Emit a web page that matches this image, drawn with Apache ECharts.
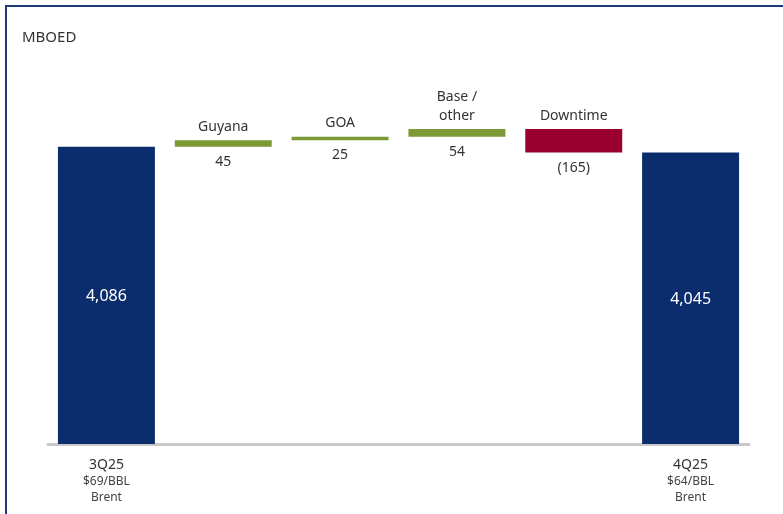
<!DOCTYPE html>
<html>
<head>
<meta charset="utf-8">
<title>MBOED bridge</title>
<script src="https://cdn.jsdelivr.net/npm/echarts@6/dist/echarts.min.js"></script>
<style>
  html, body { margin: 0; padding: 0; background: #ffffff; }
  #chart { width: 783px; height: 514px; }
</style>
</head>
<body>
<div id="chart"></div>
<script>
// Production bridge, thousand barrels of oil equivalent per day
const categories = ['3Q25', 'Guyana', 'GOA', 'Base /\nother', 'Downtime', '4Q25'];
const startValue = 4086;
const deltas = [45, 25, 54, -165];
const endValue = 4045;
const priceNotes = ['$69/BBL\nBrent', '', '', '', '', '$64/BBL\nBrent'];

const Y_MIN = 2000;
const Y_MAX = 4400;

const NAVY = '#0c2d6d';
const GREEN = '#7b9a33';
const RED = '#990030';
const TEXT = '#333333';
const FONT = '"Noto Sans", "Open Sans", sans-serif';

// Build floating segments: [index, low, high, value, kind]
const segments = [];
segments.push([0, Y_MIN, startValue, startValue, 'total']);
let running = startValue;
deltas.forEach(function (d, k) {
  const next = running + d;
  segments.push([k + 1, Math.min(running, next), Math.max(running, next), d, d >= 0 ? 'up' : 'down']);
  running = next;
});
segments.push([categories.length - 1, Y_MIN, endValue, endValue, 'total']);

function fmtTotal(v) {
  return v.toLocaleString('en-US');
}
function fmtDelta(v) {
  return v < 0 ? '(' + Math.abs(v) + ')' : String(v);
}

const chart = echarts.init(document.getElementById('chart'), null, { renderer: 'canvas' });

chart.setOption({
  backgroundColor: '#ffffff',
  animation: false,
  graphic: [
    { type: 'rect', shape: { x: 5, y: 5, width: 2, height: 509 }, style: { fill: '#1d3b7a' } },
    { type: 'rect', shape: { x: 5, y: 5, width: 778, height: 2 }, style: { fill: '#1d3b7a' } },
    {
      type: 'text', left: 22, top: 30,
      style: { text: 'MBOED', fontSize: 15, fill: TEXT, fontFamily: FONT }
    }
  ],
  grid: { left: 48, right: 34, top: 102, bottom: 70, containLabel: false },
  xAxis: {
    type: 'category',
    data: categories,
    axisLine: { show: true, lineStyle: { color: '#c8c8c8', width: 3 } },
    axisTick: { show: false },
    axisLabel: {
      interval: 0,
      margin: 12,
      fontFamily: FONT,
      formatter: function (v, idx) {
        if (idx !== 0 && idx !== categories.length - 1) return '';
        const lines = priceNotes[idx].split('\n');
        return '{a|' + v + '}\n' + lines.map(function (l) { return '{b|' + l + '}'; }).join('\n');
      },
      rich: {
        a: { fontSize: 14, color: TEXT, lineHeight: 18, fontFamily: FONT },
        b: { fontSize: 12, color: '#444444', lineHeight: 16, fontFamily: FONT }
      }
    }
  },
  yAxis: {
    type: 'value',
    min: Y_MIN,
    max: Y_MAX,
    show: false,
    splitLine: { show: false }
  },
  series: [{
    type: 'custom',
    data: segments,
    encode: { x: 0, y: [1, 2] },
    renderItem: function (params, api) {
      const idx = api.value(0);
      const lo = api.value(1);
      const hi = api.value(2);
      const val = api.value(3);
      const kind = segments[params.dataIndex][4];
      const top = api.coord([idx, hi]);
      const bottom = api.coord([idx, lo]);
      const bandW = api.size([1, 0])[0];
      const w = bandW * 0.83;
      const x = top[0] - w / 2;
      const children = [];
      const color = kind === 'total' ? NAVY : (kind === 'up' ? GREEN : RED);
      children.push({
        type: 'rect',
        shape: { x: x, y: top[1], width: w, height: bottom[1] - top[1] },
        style: { fill: color }
      });
      if (kind === 'total') {
        children.push({
          type: 'text',
          style: {
            x: top[0], y: (top[1] + bottom[1]) / 2 + 1,
            text: fmtTotal(val), fill: '#ffffff', fontSize: 16,
            fontFamily: FONT, align: 'center', verticalAlign: 'middle'
          }
        });
      } else {
        children.push({
          type: 'text',
          style: {
            x: top[0], y: top[1] - 4,
            text: categories[idx], fill: TEXT, fontSize: 14, lineHeight: 19,
            fontFamily: FONT, align: 'center', verticalAlign: 'bottom'
          }
        });
        children.push({
          type: 'text',
          style: {
            x: top[0], y: bottom[1] + 8,
            text: fmtDelta(val), fill: TEXT, fontSize: 14,
            fontFamily: FONT, align: 'center', verticalAlign: 'top'
          }
        });
      }
      return { type: 'group', children: children };
    }
  }]
});
</script>
</body>
</html>
